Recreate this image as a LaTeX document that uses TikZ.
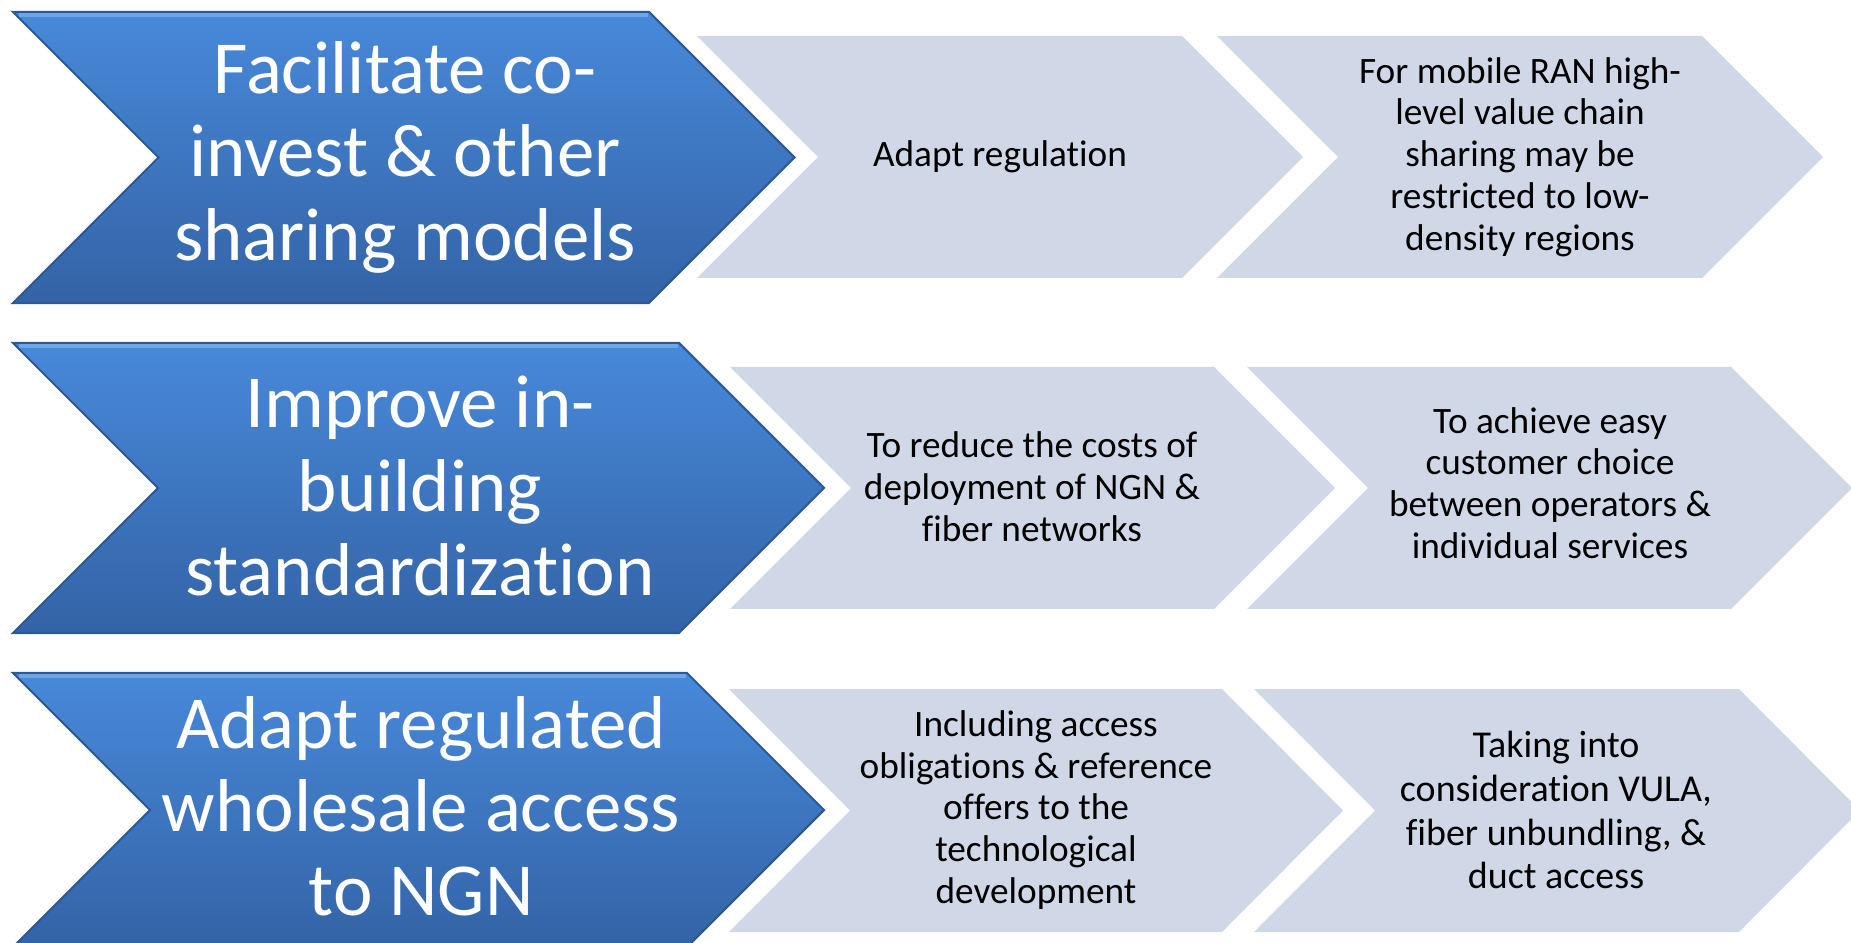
\documentclass[tikz,border=0pt]{standalone}
\usepackage{fontspec}
\setmainfont{Carlito}[Ligatures=NoCommon]
\definecolor{bluetop}{RGB}{72,137,218}
\definecolor{bluebot}{RGB}{51,99,166}
\definecolor{blueedge}{RGB}{45,88,150}
\definecolor{bluehi}{RGB}{120,175,235}
\definecolor{grayfill}{RGB}{208,216,232}
% #1 L, #2 TR, #3 T, #4 B, #5 C, #6 half height
\newcommand\bluechev[6]{%
  \shade[top color=bluetop,bottom color=bluebot]
    (#1,#3) -- (#2,#3) -- ({#2+#6},#5) -- (#2,#4) -- (#1,#4) -- ({#1+#6},#5) -- cycle;
  \draw[blueedge,line width=0.6pt,line join=miter]
    (#1,#3) -- (#2,#3) -- ({#2+#6},#5) -- (#2,#4) -- (#1,#4) -- ({#1+#6},#5) -- cycle;
  \draw[bluehi,line width=1.2pt,opacity=0.8] ({#1+6},{#3+3}) -- ({#2-1},{#3+3});
}
\newcommand\graychev[6]{%
  \fill[grayfill]
    (#1,#3) -- (#2,#3) -- ({#2+#6},#5) -- (#2,#4) -- (#1,#4) -- ({#1+#6},#5) -- cycle;
}
\tikzset{
  bigtxt/.style={text=white,align=center,inner sep=0pt,
    font=\fontsize{21.3pt}{23.75pt}\selectfont},
  smalltxt/.style={text=black,align=center,inner sep=0pt,
    font=\fontsize{10.6pt}{11.9pt}\selectfont},
}
\begin{document}
\begin{tikzpicture}[x=0.01cm,y=-0.01cm]
\useasboundingbox (0,0) rectangle (1851,943);
\clip (0,0) rectangle (1851,943);
\fill[white] (0,0) rectangle (1851,943);

% Row 1
\graychev{697}{1182}{36}{278}{157}{121}
\graychev{1217}{1702}{36}{278}{157}{121}
\bluechev{13}{649}{12}{303}{157.5}{145.5}
\node[bigtxt] (b1) at (405,157) {Facilitate co-\\invest \& other\\sharing models};
\node[smalltxt] (g11) at (1000,157) {Adapt regulation};
\node[smalltxt] (g12) at (1520,157) {For mobile RAN high-\\level value chain\\sharing may be\\restricted to low-\\density regions};

% Row 2
\graychev{730}{1214}{367}{609}{488}{121}
\graychev{1247}{1731}{367}{609}{488}{121}
\bluechev{13}{679}{343}{633}{488}{145}
\node[bigtxt] (b2) at (420,486) {Improve in-\\building\\standardization};
\node[smalltxt] (g21) at (1032,487) {To reduce the costs of\\deployment of NGN \&\\fiber networks};
\node[smalltxt] (g22) at (1550,483) {To achieve easy\\customer choice\\between operators \&\\individual services};

% Row 3
\graychev{729}{1222}{689}{932}{810.5}{121}
\graychev{1254}{1739}{689}{932}{810.5}{121}
\bluechev{13}{687}{673}{947}{810}{137}
\node[bigtxt] (b3) at (421,806) {Adapt regulated\\wholesale access\\to NGN};
\node[smalltxt] (g31) at (1036,810) {Including access\\obligations \& reference\\offers to the\\technological\\development};
\node[smalltxt,font=\fontsize{10.8pt}{12.5pt}\selectfont] (g32) at (1556,810) {Taking into\\consideration VULA,\\fiber unbundling, \&\\duct access};
\end{tikzpicture}
\end{document}
